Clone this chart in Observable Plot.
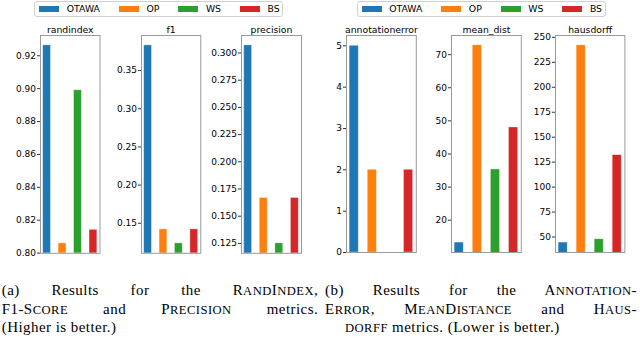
<!DOCTYPE html>
<html>
<head>
<meta charset="utf-8">
<script src="https://cdn.jsdelivr.net/npm/d3@7"></script>
<script src="https://cdn.jsdelivr.net/npm/@observablehq/plot@0.6"></script>
<style>
  html, body { margin: 0; padding: 0; background: #fff; }
  #root { position: relative; width: 640px; height: 338px; overflow: hidden; font-family: "DejaVu Sans", sans-serif; }
  .panel { position: absolute; }
  .legend { position: absolute; top: 1px; height: 15.5px; border: 1px solid #d0d0d0; border-radius: 3px;
            display: flex; align-items: center; padding: 0 4px; box-sizing: border-box; font-size: 9.3px; color: #000; }
  .legend .item { display: flex; align-items: center; margin-right: 19px; }
  .legend .item:last-child { margin-right: 0; }
  .legend .sw { width: 20px; height: 6.5px; margin-right: 7.5px; }
  .cap { position: absolute; font-family: "Liberation Serif", serif; font-size: 15px; line-height: 17.6px;
         letter-spacing: 0.45px; color: #000; }
  .cap .ln { white-space: nowrap; text-align: justify; text-align-last: justify; }
  .cap .ln.last { text-align: left; text-align-last: left; }
  .lc { font-size: 0.84em; }
</style>
</head>
<body>
<div id="root"></div>
<script>
// ---- data ----
const methods = ["OTAWA", "OP", "WS", "BS"];
const palette = ["#1f77b4", "#ff7f0e", "#2ca02c", "#d62728"];

const randindex = [0.9263, 0.8059, 0.8990, 0.8141];
const f1 = [0.3829, 0.1420, 0.1237, 0.1420];
const precision = [0.3070, 0.1667, 0.1250, 0.1667];
const annotationerror = [5, 2, 0, 2];
const mean_dist = [13.24, 72.8, 35.3, 48.0];
const hausdorff = [44.4, 242.0, 47.7, 132.0];

const randindexTicks = [0.80, 0.82, 0.84, 0.86, 0.88, 0.90, 0.92];
const f1Ticks = [0.15, 0.20, 0.25, 0.30, 0.35];
const precisionTicks = [0.125, 0.150, 0.175, 0.200, 0.225, 0.250, 0.275, 0.300];
const annotationTicks = [0, 1, 2, 3, 4, 5];
const meanDistTicks = [20, 30, 40, 50, 60, 70];
const hausdorffTicks = [50, 75, 100, 125, 150, 175, 200, 225, 250];

// ---- layout ----
const root = document.getElementById("root");
const mL = 32, mR = 3, mT = 18, mB = 3;

function panel(title, values, ticks, fmt, left, top, frameW, bottom, fromZero) {
  const data = methods.map((m, i) => ({method: m, value: values[i]}));
  const lo = d3.min(values), hi = d3.max(values), r = hi - lo;
  const domain = fromZero ? [0, hi + 0.05 * hi] : [lo - 0.05 * r, hi + 0.05 * r];
  const frameH = bottom - top;
  const chart = Plot.plot({
    width: mL + frameW + mR,
    height: mT + frameH + mB,
    marginLeft: mL, marginRight: mR, marginTop: mT, marginBottom: mB,
    style: {fontFamily: "DejaVu Sans", fontSize: "9px", color: "#000", background: "transparent", overflow: "visible"},
    x: {type: "band", domain: methods, paddingInner: 0.5, paddingOuter: 0.175, round: false, axis: null},
    y: {domain, axis: null},
    color: {domain: methods, range: palette},
    marks: [
      Plot.barY(data, {x: "method", y: "value", fill: "method", clip: true,
                       stroke: "white", strokeOpacity: 0.35, strokeWidth: 0.8}),
      Plot.frame({stroke: "#9a9a9a", strokeWidth: 1}),
      Plot.axisY({ticks, tickFormat: fmt, tickSize: 3, tickPadding: 1.5, fontSize: 9, label: null, stroke: "#333"}),
      Plot.text([title], {text: d => d, frameAnchor: "top", dy: -2.5, lineAnchor: "bottom", fontSize: 9.3, fill: "#000"})
    ]
  });
  chart.classList.add("panel");
  chart.style.left = (left - mL) + "px";
  chart.style.top = (top - mT) + "px";
  root.appendChild(chart);
}

panel("randindex", randindex, randindexTicks, d3.format(".2f"), 40, 34.5, 59.5, 252.3, false);
panel("f1", f1, f1Ticks, d3.format(".2f"), 141, 34.5, 59.3, 252.3, false);
panel("precision", precision, precisionTicks, d3.format(".3f"), 240.9, 34.5, 60, 252.3, false);
panel("annotationerror", annotationerror, annotationTicks, d3.format("d"), 346.2, 35.3, 69.8, 252.3, true);
panel("mean_dist", mean_dist, meanDistTicks, d3.format("d"), 450.8, 35.3, 69.8, 252.3, false);
panel("hausdorff", hausdorff, hausdorffTicks, d3.format("d"), 555, 35.3, 69.4, 252.3, false);

// ---- legends ----
function legend(left, width) {
  const box = document.createElement("div");
  box.className = "legend";
  box.style.left = left + "px";
  box.style.width = width + "px";
  methods.forEach((m, i) => {
    const it = document.createElement("div");
    it.className = "item";
    const sw = document.createElement("div");
    sw.className = "sw";
    sw.style.background = palette[i];
    const tx = document.createElement("span");
    tx.textContent = m;
    it.appendChild(sw); it.appendChild(tx);
    box.appendChild(it);
  });
  root.appendChild(box);
}
legend(34.3, 248.5);
legend(356.7, 249.3);

// ---- captions ----
// small caps: lowercase runs rendered as reduced capitals
function sc(word) {
  return word.replace(/[a-z]+/g, s => '<span class="lc">' + s.toUpperCase() + '</span>');
}
function caption(left, width, lines) {
  const c = document.createElement("div");
  c.className = "cap";
  c.style.left = left + "px";
  c.style.top = "282px";
  c.style.width = width + "px";
  lines.forEach((html, i) => {
    const ln = document.createElement("div");
    ln.className = "ln" + (i === lines.length - 1 ? " last" : "");
    ln.innerHTML = html;
    c.appendChild(ln);
  });
  root.appendChild(c);
}
caption(1.7, 316.5, [
  '(a) Results for the ' + sc("RandIndex") + ',',
  'F1-' + sc("Score") + ' and ' + sc("Precision") + ' metrics.',
  '(Higher is better.)'
]);
caption(325, 312, [
  '(b) Results for the ' + sc("Annotation") + '-',
  sc("Error") + ', ' + sc("MeanDistance") + ' and ' + sc("Haus") + '-',
  '<span style="padding-left:20px">' + sc("dorff") + ' metrics. (Lower is better.)</span>'
]);
</script>
</body>
</html>
